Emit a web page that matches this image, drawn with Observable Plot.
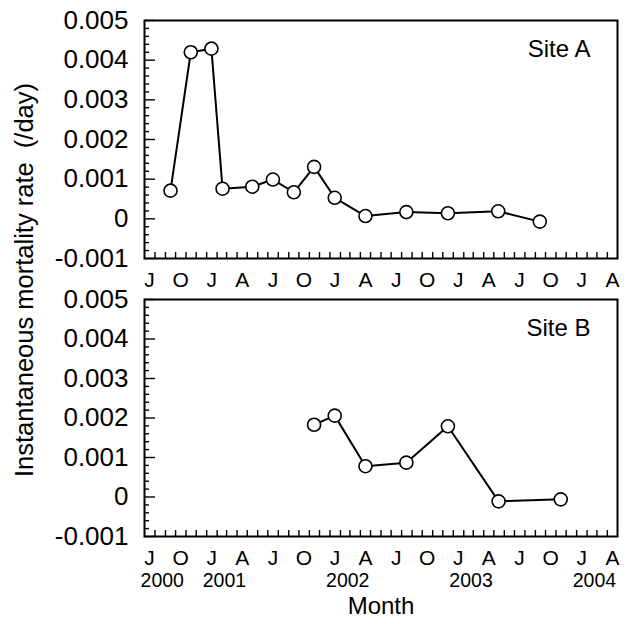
<!DOCTYPE html>
<html><head><meta charset="utf-8">
<script src="https://cdn.jsdelivr.net/npm/d3@7"></script>
<script src="https://cdn.jsdelivr.net/npm/@observablehq/plot@0.6"></script>
<style>
body{margin:0;background:#fff;}
#chart{position:relative;width:629px;height:624px;font-family:"Liberation Sans",Arial,sans-serif;color:#000;background:#fff;}
#chart > svg{position:absolute;left:0;}
#ytitle{position:absolute;left:24.6px;top:280px;transform:translate(-50%,-50%) rotate(-90deg);white-space:pre;font-size:25.5px;line-height:1;}
</style></head><body><div id="chart"><div id="ytitle">Instantaneous mortality rate  (/day)</div></div>
<script>
// Site A samples
const siteADates = ["2000-09-16","2000-11-15","2001-01-15","2001-02-17","2001-05-16","2001-07-16","2001-09-16","2001-11-15","2002-01-15","2002-04-16","2002-08-15","2002-12-16","2003-05-14","2003-09-14"];
const siteAValues = [0.00071,0.00420,0.00429,0.00076,0.00081,0.00099,0.00067,0.00131,0.00053,0.00007,0.00017,0.00014,0.00019,-0.00007];
// Site B samples
const siteBDates = ["2001-11-15","2002-01-15","2002-04-16","2002-08-15","2002-12-16","2003-05-15","2003-11-15"];
const siteBValues = [0.00183,0.00206,0.00078,0.00087,0.00179,-0.00011,-0.00006];
// axis labels
const quarterLabelDates = ["2000-07-16","2000-10-16","2001-01-16","2001-04-16","2001-07-16","2001-10-16","2002-01-16","2002-04-16","2002-07-16","2002-10-16","2003-01-16","2003-04-16","2003-07-16","2003-10-16","2004-01-16","2004-04-16"];
const quarterLabels = ["J","O","J","A","J","O","J","A","J","O","J","A","J","O","J","A"];
const yearLabelDates = ["2000-07-16","2001-01-16","2002-01-16","2003-01-16","2004-01-16"];
const yearLabels = ["2000","2001","2002","2003","2004"];
const yTickValues = [-0.001,0,0.001,0.002,0.003,0.004,0.005];
const yTickLabels = ["-0.001","0","0.001","0.002","0.003","0.004","0.005"];
const siteNames = ["Site A","Site B"];
const xAxisTitle = "Month";

const font = "'Liberation Sans', Arial, sans-serif";
const xDomain = [new Date("2000-07-01"), new Date("2004-05-01")];
const monthTicks = d3.utcMonth.range(new Date("2000-08-01"), new Date("2004-05-01"));
const minorY = d3.range(-10, 51, 2).filter(v => v % 10 !== 0).map(v => v / 10000);
const qDates = quarterLabelDates.map(d => new Date(d));
const yDates = yearLabelDates.map(d => new Date(d));

function toRows(dates, values) {
  return dates.map((d, i) => ({date: new Date(d), value: values[i]}));
}

function panel(rows, site, {height, marginBottom, bottom}) {
  const marks = [
    Plot.axisY(minorY, {tickSize: 5, dx: 5, tickFormat: () => "", label: null, strokeWidth: 1.4}),
    Plot.axisY(yTickValues, {tickSize: 11, dx: 11, tickFormat: () => "", label: null, strokeWidth: 1.4}),
    Plot.axisY(yTickValues, {tickSize: 0, tickPadding: 16, tickFormat: d => yTickLabels[yTickValues.indexOf(d)], label: null, fontSize: 26}),
    Plot.axisX(monthTicks, {tickSize: 6, dy: -6, tickFormat: () => "", label: null, strokeWidth: 1.4}),
    Plot.text(quarterLabels, {x: qDates, text: d => d, frameAnchor: "bottom", lineAnchor: "top", dy: 13.5, fontSize: 21}),
    Plot.frame({stroke: "black", strokeWidth: 2}),
    Plot.line(rows, {x: "date", y: "value", stroke: "black", strokeWidth: 2}),
    Plot.dot(rows, {x: "date", y: "value", r: 6.5, fill: "white", stroke: "black", strokeWidth: 1.6}),
    Plot.text([site], {frameAnchor: "top-right", textAnchor: "end", lineAnchor: "top", dx: -27, dy: 19, fontSize: 24})
  ];
  if (bottom) {
    marks.push(Plot.text(yearLabels, {x: yDates, text: d => d, frameAnchor: "bottom", lineAnchor: "top", textAnchor: "start", dx: -9, dy: 37, fontSize: 19.5}));
    marks.push(Plot.text([xAxisTitle], {frameAnchor: "bottom", lineAnchor: "top", dy: 60, fontSize: 24}));
  }
  return Plot.plot({
    width: 629, height,
    marginLeft: 144, marginRight: 12, marginTop: 20, marginBottom,
    x: {type: "utc", domain: xDomain},
    y: {domain: [-0.001, 0.005]},
    style: {fontFamily: font, color: "black", background: "transparent", overflow: "visible"},
    marks
  });
}

const chart = document.getElementById("chart");
const p1 = panel(toRows(siteADates, siteAValues), siteNames[0], {height: 279, marginBottom: 21, bottom: false});
p1.style.top = "0px";
const p2 = panel(toRows(siteBDates, siteBValues), siteNames[1], {height: 345, marginBottom: 88, bottom: true});
p2.style.top = "279px";
chart.appendChild(p1);
chart.appendChild(p2);
</script>
</body></html>
